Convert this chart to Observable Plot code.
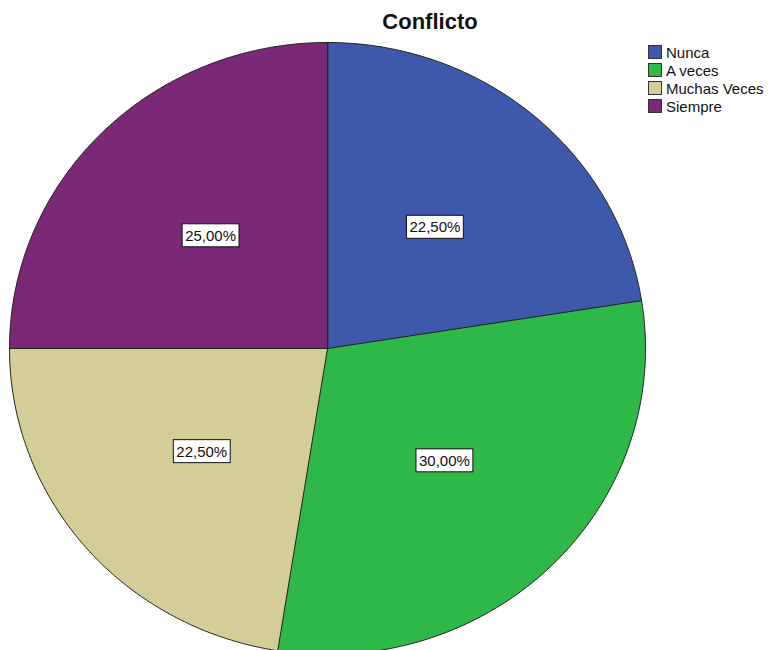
<!DOCTYPE html>
<html>
<head>
<meta charset="utf-8">
<script src="https://cdn.jsdelivr.net/npm/d3@7"></script>
<script src="https://cdn.jsdelivr.net/npm/@observablehq/plot@0.6"></script>
<style>
  html, body { margin: 0; padding: 0; background: #fff; overflow: hidden; }
  #wrap { position: relative; width: 768px; height: 650px; overflow: hidden; font-family: "Liberation Sans", Arial, sans-serif; }
  #chart { position: absolute; left: 0; top: 0; }
  #title { position: absolute; left: 0; width: 860px; top: 9px; text-align: center; font-weight: bold; font-size: 22px; color: #111; }
  #legend { position: absolute; left: 648px; top: 43px; font-size: 15px; color: #111; }
  .item { display: flex; align-items: center; height: 18px; }
  .sw { width: 12px; height: 12px; border: 1px solid #333; margin-right: 4px; box-sizing: content-box; }
</style>
</head>
<body>
<div id="wrap">
  <div id="chart"></div>
  <div id="title"></div>
  <div id="legend"></div>
</div>
<script>
const title = "Conflicto";
const categories = ["Nunca", "A veces", "Muchas Veces", "Siempre"];
const percents = [22.5, 30.0, 22.5, 25.0];
const labels = ["22,50%", "30,00%", "22,50%", "25,00%"];
const colors = ["#3e58ac", "#2eb848", "#d4cd98", "#7b2877"];

// Angles from the values (clockwise from 12 o'clock)
const total = d3.sum(percents);
let acc = 0;
const slices = categories.map((name, i) => {
  const a0 = acc / total * 2 * Math.PI;
  acc += percents[i];
  const a1 = acc / total * 2 * Math.PI;
  return {name, a0, a1, label: labels[i]};
});

// Outline points in unit-circle data coordinates
const pts = [];
for (const s of slices) {
  pts.push({name: s.name, x: 0, y: 0});
  const n = Math.max(8, Math.ceil((s.a1 - s.a0) / 0.01));
  for (let k = 0; k <= n; k++) {
    const a = s.a0 + (s.a1 - s.a0) * k / n;
    pts.push({name: s.name, x: Math.sin(a), y: Math.cos(a)});
  }
}
const labelPts = slices.map(s => {
  const m = (s.a0 + s.a1) / 2;
  const r = 0.52;
  return {x: r * Math.sin(m), y: r * Math.cos(m), text: s.label};
});

const plot = Plot.plot({
  width: 768,
  height: 650,
  margin: 0,
  style: {background: "#fff", overflow: "hidden"},
  x: {domain: [-1, 1], range: [9, 645], axis: null},
  y: {domain: [-1, 1], range: [654, 42], axis: null},
  color: {domain: categories, range: colors},
  marks: [
    Plot.line(pts, {x: "x", y: "y", z: "name", fill: "name", stroke: "#222", strokeWidth: 1, curve: "linear-closed"}),
    Plot.text(labelPts, {x: "x", y: "y", text: "text", fontSize: 15, fill: "#111", fontFamily: "Liberation Sans, Arial, sans-serif", className: "pct"})
  ]
});
document.getElementById("chart").appendChild(plot);

// White framed boxes behind the percentage labels
d3.select(plot).selectAll(".pct text").each(function() {
  const b = this.getBBox();
  const t = this.getAttribute("transform");
  const r = d3.select(this.parentNode).insert("rect", () => this)
    .attr("x", b.x - 3).attr("y", b.y - 3)
    .attr("width", b.width + 6).attr("height", b.height + 6)
    .attr("fill", "#fff").attr("stroke", "#111").attr("stroke-width", 1);
  if (t) r.attr("transform", t);
});

document.getElementById("title").textContent = title;
const leg = d3.select("#legend");
categories.forEach((c, i) => {
  const it = leg.append("div").attr("class", "item");
  it.append("div").attr("class", "sw").style("background", colors[i]);
  it.append("span").text(c);
});
</script>
</body>
</html>
